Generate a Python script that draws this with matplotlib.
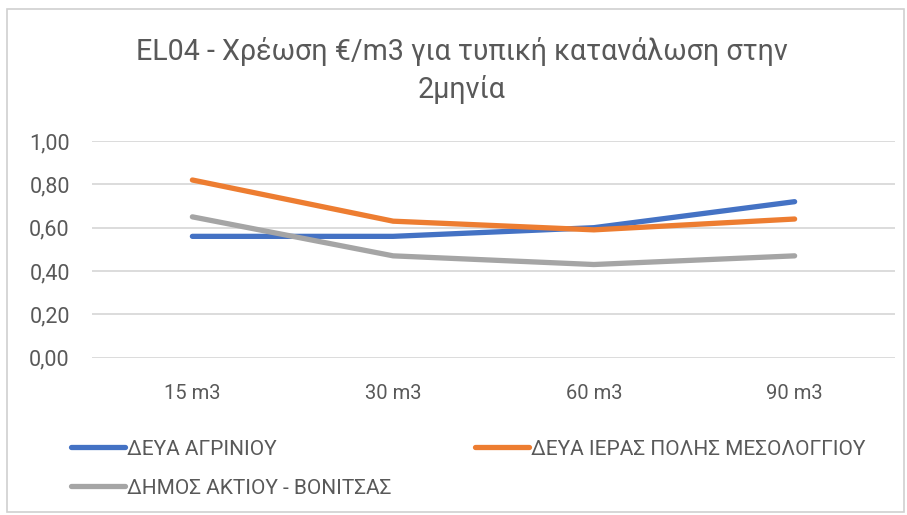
import matplotlib
matplotlib.use("Agg")
import matplotlib.pyplot as plt
from matplotlib.patches import Rectangle
from matplotlib.lines import Line2D

# ---- data ----
categories = ["15 m3", "30 m3", "60 m3", "90 m3"]
agrinio = [0.56, 0.56, 0.60, 0.72]
mesologgi = [0.82, 0.63, 0.59, 0.64]
aktio = [0.65, 0.47, 0.43, 0.47]
series_names = ["ΔΕΥΑ ΑΓΡΙΝΙΟΥ", "ΔΕΥΑ ΙΕΡΑΣ ΠΟΛΗΣ ΜΕΣΟΛΟΓΓΙΟΥ", "ΔΗΜΟΣ ΑΚΤΙΟΥ - ΒΟΝΙΤΣΑΣ"]
y_ticks = [0.0, 0.2, 0.4, 0.6, 0.8, 1.0]
y_tick_labels = ["0,00", "0,20", "0,40", "0,60", "0,80", "1,00"]
title_lines = ["EL04 - Χρέωση €/m3 για τυπική κατανάλωση στην", "2μηνία"]

colors = ["#4472C4", "#ED7D31", "#A5A5A5"]
text_color = "#595959"
FONT = ["Roboto", "DejaVu Sans"]
plt.rcParams["font.family"] = FONT

W, H = 907, 515
fig = plt.figure(figsize=(W / 100, H / 100), dpi=100)
fig.patch.set_facecolor("white")

# outer chart border
fig.add_artist(Rectangle((7 / W, 3 / H), (W - 10) / W, (H - 12) / H,
                         transform=fig.transFigure, fill=False,
                         edgecolor="#D0D0D0", linewidth=1.2))

left, right = 92, 895
top, bottom = 141, 357.7
ax = fig.add_axes([left / W, 1 - bottom / H, (right - left) / W, (bottom - top) / H])

x = list(range(len(categories)))
for vals, c in zip([agrinio, mesologgi, aktio], colors):
    ax.plot(x, vals, color=c, linewidth=3.8, solid_capstyle="round", zorder=3)

ax.set_xlim(-0.5, len(categories) - 0.5)
ax.set_ylim(0, 1.0)
ax.set_yticks(y_ticks)
ax.set_yticklabels(y_tick_labels)
ax.set_xticks(x)
ax.set_xticklabels(categories)
ax.tick_params(axis="both", length=0, colors=text_color)
ax.tick_params(axis="y", pad=16, labelsize=15.5)
ax.tick_params(axis="x", pad=19, labelsize=14.5)
ax.grid(axis="y", color="#D9D9D9", linewidth=1.3)
ax.set_axisbelow(True)
for s in ax.spines.values():
    s.set_visible(False)

fig.text(0.509, 1 - 51 / H, title_lines[0],
         ha="center", va="center", fontsize=20.6, color=text_color)
fig.text(0.509, 1 - 90 / H, title_lines[1],
         ha="center", va="center", fontsize=20.6, color=text_color)

handles = [Line2D([], [], color=c, linewidth=3.8, solid_capstyle="round") for c in colors]
order = [0, 2, 1]
leg = fig.legend([handles[i] for i in order], [series_names[i] for i in order],
                 ncol=2, loc="upper left", bbox_to_anchor=(52 / W, 1 - 421 / H),
                 frameon=False, fontsize=15, handlelength=2.6, handletextpad=0.1,
                 columnspacing=4.0, labelspacing=0.95, labelcolor=text_color)

fig.savefig("out.png", dpi=100, facecolor="white")
